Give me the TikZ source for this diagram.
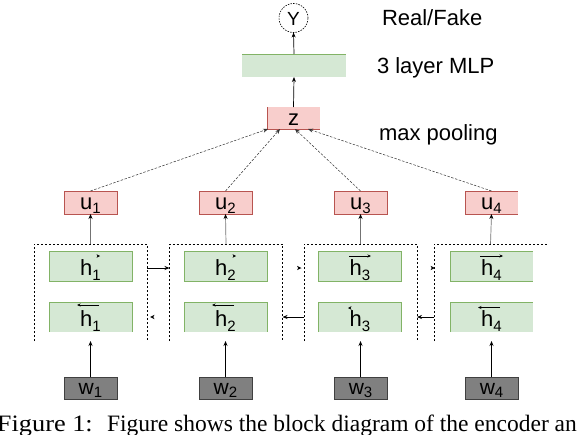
\documentclass[tikz,border=0pt]{standalone}
\usepackage{graphicx}
\usepackage{fontspec}
\setmainfont{Liberation Sans}
\newfontfamily\capfont{Liberation Serif}
\usetikzlibrary{arrows.meta,calc}
\definecolor{gfill}{HTML}{D5E8D4}
\definecolor{gline}{HTML}{82B366}
\definecolor{pfill}{HTML}{F8CECC}
\definecolor{pline}{HTML}{B85450}
\definecolor{wfill}{HTML}{808080}
\definecolor{wline}{HTML}{404040}
\newcommand{\lab}[3][4.5pt]{#2\raisebox{-#1}{\fontsize{15}{15}\selectfont #3}}
\newcommand{\tipR}[1]{\fill (#1) -- ++(-4.5,-2.2) -- ++(1.2,2.2) -- ++(-1.2,2.2) -- cycle;}
\newcommand{\tipL}[1]{\fill (#1) -- ++(4.5,-2.2) -- ++(-1.2,2.2) -- ++(1.2,2.2) -- cycle;}
\newcommand{\stipR}[1]{\fill (#1) -- ++(-3.5,-1.8) -- ++(1,1.8) -- ++(-1,1.8) -- cycle;}
\newcommand{\stipL}[1]{\fill (#1) -- ++(3.5,-1.8) -- ++(-1,1.8) -- ++(1,1.8) -- cycle;}
\begin{document}
\begin{tikzpicture}[x=1pt,y=-1pt,
  every node/.style={inner sep=0pt, outer sep=0pt},
  txt/.style={font=\fontsize{22}{22}\selectfont},
  bw/.style={line width=0.8pt},
  ubox/.style={txt, fill=pfill, minimum width=53pt, minimum height=23pt, text height=13pt, text depth=0pt},
  uboxd/.style={ubox, draw=pline, bw},
  hbox/.style={txt, fill=gfill, minimum width=83pt, minimum height=30pt, text height=18pt, text depth=0pt},
  hboxd/.style={hbox, draw=gline, bw},
  wbox/.style={font=\fontsize{21}{21}\selectfont, fill=wfill, draw=wline, bw, minimum width=53pt, minimum height=22pt, text height=12pt, text depth=0pt},
  cont/.style={minimum width=113pt, minimum height=97pt},
  dotline/.style={line width=0.6pt, dash pattern=on 2pt off 2pt},
  arr/.style={-{Stealth[length=5pt,width=4pt]}, line width=0.7pt},
  garr/.style={-{Stealth[length=5pt,width=4pt,black]}, line width=0.7pt, draw=black!55},
  darr/.style={-{Stealth[length=5pt,width=4pt]}, line width=0.5pt, dash pattern=on 2.5pt off 1.5pt, draw=black!80},
  ovarr/.style={-{Stealth[length=3.5pt,width=3pt]}, line width=0.6pt},
  side/.style={txt, anchor=base west}
]
\useasboundingbox (0,0) rectangle (580,434);
\clip (0,0) rectangle (580,434);

% top column
\node[draw, line width=0.6pt, dash pattern=on 1.5pt off 1.2pt, circle, minimum size=29pt,
  font=\fontsize{19}{19}\selectfont, text height=14pt, text depth=0pt] (Y) at (293.5,18) {Y};
\node[fill=gfill, minimum width=104pt, minimum height=23pt] (mlp) at (294,65.5) {};
\draw[gline, bw] (mlp.north west) -- (mlp.north east);
\node[txt, fill=pfill, minimum width=53pt, minimum height=22pt, text height=14pt, text depth=0pt] (z) at (293.5,118) {z};
\draw[pline, bw] (z.north west) -- (z.south west) -- (z.south east);

% side labels
\node[side] (lreal) at (382,25) {Real/Fake};
\node[side] (lmlp) at (377,73) {3 layer MLP};
\node[side] (lpool) at (379,140) {max pooling};

% u boxes
\node[uboxd] (u1) at (90.5,202.5) {\lab{u}{1}};
\node[uboxd] (u2) at (225.5,202.5) {\lab{u}{2}};
\node[uboxd] (u3) at (360.5,202.5) {\lab{u}{3}};
\node[ubox] (u4) at (491.5,202.5) {\lab{u}{4}};
\draw[pline, bw] (u4.north east) -- (u4.north west) -- (u4.south west) -- (u4.south east);

% containers
\node[cont] (c1) at (90.5,292.5) {};
\node[cont] (c2) at (226,292.5) {};
\node[cont] (c3) at (360.5,292.5) {};
\node[cont] (c4) at (490.5,292.5) {};
\draw[dotline] (c1.south west) -- (c1.north west) -- (c1.north east) -- (c1.south east);
\draw[dotline] (c2.south west) -- (c2.north west) -- (c2.north east) -- (c2.south east);
\draw[dotline] (c3.south west) -- (c3.north west) -- (c3.north east) -- (c3.south east);
\draw[dotline] (c4.south west) -- (c4.north west) -- (c4.north east);

% forward h boxes
\node[hboxd] (hf1) at (90.5,266) {\lab[5.5pt]{h}{1}};
\node[hboxd] (hf2) at (225.5,266) {\lab[5.5pt]{h}{2}};
\node[hboxd] (hf3) at (360,266) {\lab[5.5pt]{h}{3}};
\node[hbox] (hf4) at (491.5,266) {\lab[5.5pt]{h}{4}};
\draw[gline, bw] (hf4.north east) -- (hf4.north west) -- (hf4.south west) -- (hf4.south east);

% backward h boxes
\node[hbox] (hb1) at (90.5,317) {\lab[5.5pt]{h}{1}};
\node[hbox] (hb2) at (225.5,317) {\lab[5.5pt]{h}{2}};
\node[hbox] (hb3) at (360,317) {\lab[5.5pt]{h}{3}};
\node[hbox] (hb4) at (491.5,317) {\lab[5.5pt]{h}{4}};
\draw[gline, bw] (hb1.south west) -- (hb1.north west) -- (hb1.north east) -- (hb1.south east);
\draw[gline, bw] (hb2.south west) -- (hb2.north west) -- (hb2.north east) -- (hb2.south east);
\draw[gline, bw] (hb3.south west) -- (hb3.north west) -- (hb3.north east) -- (hb3.south east);
\draw[gline, bw] (hb4.south west) -- (hb4.north west) -- (hb4.north east);

% vector arrows over h
\stipR{$(hf1.center)+(9.5,-10)$}
\stipR{$(hf2.center)+(10.5,-10)$}
\draw[ovarr] ($(hf3.center)+(-11,-10)$) -- ($(hf3.center)+(11,-10)$);
\draw[ovarr] ($(hf4.center)+(-11.5,-10)$) -- ($(hf4.center)+(11.5,-10)$);
\draw[ovarr] ($(hb1.center)+(8.5,-12)$) -- ($(hb1.center)+(-13.5,-12)$);
\draw[ovarr] ($(hb2.center)+(8.5,-12)$) -- ($(hb2.center)+(-13.5,-12)$);
\stipL{$(hb3.center)+(-12,-9)$}
\draw[ovarr] ($(hb4.center)+(8.5,-9.5)$) -- ($(hb4.center)+(-13.5,-9.5)$);

% w boxes
\node[wbox] (w1) at (90.5,388) {\lab[3.5pt]{w}{1}};
\node[wbox] (w2) at (225.5,388) {\lab[3.5pt]{w}{2}};
\node[wbox] (w3) at (360.5,388) {\lab[3.5pt]{w}{3}};
\node[wbox] (w4) at (491.5,388) {\lab[3.5pt]{w}{4}};

% vertical connectors
\foreach \i in {1,2,3,4}{
  \draw[arr] (w\i.north) -- (w\i.north |- c\i.south);
  \draw[garr] (c\i.north) -- (u\i.south);
}
\coordinate (zin1) at ($(z.south west)+(1,0)$);
\coordinate (zin2) at ($(z.south west)+(13,0)$);
\coordinate (zin3) at ($(z.south west)+(28,0)$);
\coordinate (zin4) at ($(z.south west)+(41,0)$);
\foreach \i in {1,2,3,4}{
  \draw[darr] (u\i.north) -- (zin\i);
}
\draw[arr] (z.north) -- (mlp.south);
\draw[arr] (mlp.north) -- (Y.south);

% horizontal connectors
\coordinate (fy) at (0,268);
\coordinate (by) at (0,317);
\draw[arr] (c1.east |- fy) -- (c2.west |- fy);
\coordinate (t23) at ($(c3.west |- fy)+(-2.5,0)$);
\coordinate (t34) at ($(c4.west |- fy)+(1,0)$);
\tipR{t23}
\tipR{t34}
\draw[arr] (c3.west |- by) -- (c2.east |- by);
\draw[arr] (c4.west |- by) -- (c3.east |- by);
\coordinate (t21) at ($(c1.east |- by)+(3,0)$);
\tipL{t21}

% caption
\node[anchor=base west, font=\capfont\fontsize{23.5}{23.5}\selectfont] (cap) at (-3,431)
  {\makebox[110pt][l]{\scalebox{1.12}[1]{Figure 1:}}Figure shows the block diagram of the encoder an};
\end{tikzpicture}
\end{document}
